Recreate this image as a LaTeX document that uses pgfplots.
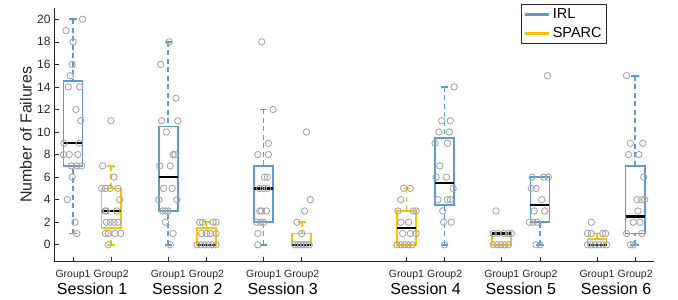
\documentclass[border=0pt]{standalone}
\usepackage{fontspec}
\setmainfont{Liberation Sans}
\usepackage{pgfplots}
\pgfplotsset{compat=1.18}
\usepgfplotslibrary{statistics}
\definecolor{irl}{HTML}{5B9BD5}
\definecolor{sparc}{HTML}{FFC000}
\definecolor{pts}{HTML}{A6A6A6}
\definecolor{axc}{HTML}{262626}
\tikzset{mydash/.style={dash pattern=on 5pt off 3.5pt}}
\pgfplotsset{
  boxplot/draw direction=y,
  boxplot/every box/.style={line width=1.7pt},
  boxplot/every whisker/.style={line width=1.7pt},
  boxplot/draw/lower whisker/.code={%
    \draw[/pgfplots/boxplot/every whisker/.try, mydash]
      (boxplot cs:\pgfplotsboxplotvalue{lower whisker}) -- (boxplot cs:\pgfplotsboxplotvalue{lower quartile});
    \draw[/pgfplots/boxplot/every whisker/.try]
      (boxplot whisker cs:\pgfplotsboxplotvalue{lower whisker},0) -- (boxplot whisker cs:\pgfplotsboxplotvalue{lower whisker},1);
  },
  boxplot/draw/upper whisker/.code={%
    \draw[/pgfplots/boxplot/every whisker/.try, mydash]
      (boxplot cs:\pgfplotsboxplotvalue{upper whisker}) -- (boxplot cs:\pgfplotsboxplotvalue{upper quartile});
    \draw[/pgfplots/boxplot/every whisker/.try]
      (boxplot whisker cs:\pgfplotsboxplotvalue{upper whisker},0) -- (boxplot whisker cs:\pgfplotsboxplotvalue{upper whisker},1);
  },
  boxplot/every median/.style={black, line width=2.3pt},
  mybox/.style={forget plot, line width=1.7pt, boxplot/draw direction=y},
}
\begin{document}
\begin{tikzpicture}
\useasboundingbox (-54pt,-38.3pt) rectangle (624pt,261.7pt);
\begin{axis}[
  scale only axis, width=600.2pt, height=253.7pt,
  xmin=0.6, xmax=6.9, ymin=-1.5, ymax=21,
  axis x line*=bottom, axis y line*=left,
  axis line style={axc, line width=0.6pt, -},
  tick align=inside, major tick length=5pt, tick style={axc, line width=0.6pt},
  xtick={0.8,1.2,1.8,2.2,2.8,3.2,4.3,4.7,5.3,5.7,6.3,6.7},
  xticklabels={Group1,Group2,Group1,Group2,Group1,Group2,Group1,Group2,Group1,Group2,Group1,Group2},
  ytick={0,2,...,20},
  /pgf/number format/assume math mode=true,
  x tick label style={font=\fontsize{10.5}{12}\selectfont, anchor=base, yshift=-15.6pt, text=axc},
  y tick label style={font=\fontsize{12}{14}\selectfont, text=axc},
  ylabel={Number of Failures},
  ylabel style={at={(axis description cs:-0.0372,0.5)}, anchor=base, font=\fontsize{16}{18}\selectfont, text=axc},
  clip=false,
  legend style={at={(axis description cs:0.9214,1.0158)}, anchor=north east, draw=axc, line width=0.7pt,
    font=\fontsize{14.5}{16}\selectfont, inner xsep=3pt, inner ysep=2.5pt, row sep=3pt},
  legend cell align=left,
  legend image code/.code={\draw[line width=2.8pt] (0pt,0pt) -- (24pt,0pt);},
]
% ---- box plots ----
\addplot[mybox, draw=irl, boxplot prepared={draw position=0.8, lower whisker=1, lower quartile=7, median=9, upper quartile=14.5, upper whisker=20, box extend=0.2, whisker extend=0.08}] coordinates {};
\addplot[mybox, draw=sparc, boxplot prepared={draw position=1.2, lower whisker=0, lower quartile=1.5, median=3, upper quartile=5, upper whisker=7, box extend=0.2, whisker extend=0.08}] coordinates {};
\addplot[mybox, draw=irl, boxplot prepared={draw position=1.8, lower whisker=0, lower quartile=3, median=6, upper quartile=10.5, upper whisker=18, box extend=0.2, whisker extend=0.08}] coordinates {};
\addplot[mybox, draw=sparc, boxplot prepared={draw position=2.2, lower whisker=0, lower quartile=0, median=0, upper quartile=1.5, upper whisker=2, box extend=0.2, whisker extend=0.08}] coordinates {};
\addplot[mybox, draw=irl, boxplot prepared={draw position=2.8, lower whisker=0, lower quartile=2, median=5, upper quartile=7, upper whisker=12, box extend=0.2, whisker extend=0.08}] coordinates {};
\addplot[mybox, draw=sparc, boxplot prepared={draw position=3.2, lower whisker=0, lower quartile=0, median=0, upper quartile=1, upper whisker=2, box extend=0.2, whisker extend=0.08}] coordinates {};
\addplot[mybox, draw=sparc, boxplot prepared={draw position=4.3, lower whisker=0, lower quartile=0, median=1.5, upper quartile=3, upper whisker=5, box extend=0.2, whisker extend=0.08}] coordinates {};
\addplot[mybox, draw=irl, boxplot prepared={draw position=4.7, lower whisker=0, lower quartile=3.5, median=5.5, upper quartile=9.5, upper whisker=14, box extend=0.2, whisker extend=0.08}] coordinates {};
\addplot[mybox, draw=sparc, boxplot prepared={draw position=5.3, lower whisker=0, lower quartile=0, median=1, upper quartile=1, upper whisker=1, box extend=0.2, whisker extend=0.08}] coordinates {};
\addplot[mybox, draw=irl, boxplot prepared={draw position=5.7, lower whisker=0, lower quartile=2, median=3.5, upper quartile=6, upper whisker=6, box extend=0.2, whisker extend=0.08}] coordinates {};
\addplot[mybox, draw=sparc, boxplot prepared={draw position=6.3, lower whisker=0, lower quartile=0, median=0, upper quartile=0.5, upper whisker=1, box extend=0.2, whisker extend=0.08}] coordinates {};
\addplot[mybox, draw=irl, boxplot prepared={draw position=6.7, lower whisker=0, lower quartile=1, median=2.5, upper quartile=7, upper whisker=15, box extend=0.2, whisker extend=0.08}] coordinates {};
% ---- individual data points ----
\addplot[forget plot, only marks, mark=o, mark size=3.2pt, color=pts, mark options={line width=0.9pt}] coordinates {
 (0.90,20) (0.726,19) (0.80,18) (0.79,16) (0.77,15) (0.75,14) (0.87,14) (0.83,12) (0.88,11)
 (0.705,9) (0.865,9) (0.70,8) (0.76,8) (0.85,8) (0.78,7) (0.84,7) (0.89,7) (0.79,6) (0.74,4) (0.82,2) (0.84,1)
 (1.198,11) (1.111,7) (1.23,6) (1.10,5) (1.14,5) (1.19,5) (1.27,5) (1.29,4) (1.135,3) (1.15,3) (1.26,3)
 (1.15,2) (1.19,2) (1.23,2) (1.27,2) (1.14,1) (1.17,1) (1.24,1) (1.30,1) (1.17,0)
 (1.81,18) (1.72,16) (1.88,13) (1.73,11) (1.90,11) (1.78,10) (1.85,8) (1.87,8) (1.71,7) (1.82,7)
 (1.75,5) (1.84,5) (1.70,4) (1.89,4) (1.74,3) (1.77,3) (1.80,3) (1.77,2) (1.85,1) (1.82,0)
 (2.13,2) (2.16,2) (2.27,2) (2.30,2) (2.15,1) (2.20,1) (2.24,1) (2.30,1)
 (2.10,0) (2.14,0) (2.18,0) (2.22,0) (2.26,0) (2.30,0)
 (2.78,18) (2.90,12) (2.85,9) (2.74,8) (2.85,8) (2.81,6) (2.84,6) (2.76,5) (2.80,5) (2.84,5)
 (2.76,3) (2.78,3) (2.83,3) (2.73,2) (2.77,2) (2.80,2) (2.74,1) (2.74,0)
 (3.25,10) (3.29,4) (3.23,3) (3.15,2) (3.20,1) (3.13,0) (3.16,0) (3.19,0) (3.22,0) (3.25,0) (3.28,0)
 (4.27,5) (4.34,5) (4.24,4) (4.21,3) (4.37,3) (4.40,3) (4.24,2) (4.32,2) (4.26,1) (4.34,1) (4.40,1)
 (4.20,0) (4.24,0) (4.28,0) (4.32,0) (4.36,0)
 (4.80,14) (4.67,11) (4.76,11) (4.64,10) (4.75,10) (4.60,9) (4.73,9) (4.65,7) (4.61,6) (4.72,6) (4.79,5)
 (4.63,4) (4.73,4) (4.76,4) (4.68,3) (4.69,2) (4.77,2) (4.70,0)
 (5.24,3) (5.21,1) (5.26,1) (5.32,1) (5.37,1) (5.40,1) (5.21,0) (5.25,0) (5.29,0) (5.33,0) (5.37,0)
 (5.78,15) (5.62,6) (5.74,6) (5.79,6) (5.61,5) (5.66,5) (5.72,4) (5.64,3) (5.75,3) (5.59,2) (5.63,2) (5.67,2) (5.66,0) (5.70,0)
 (6.24,2) (6.20,1) (6.24,1) (6.36,1) (6.39,1) (6.20,0) (6.24,0) (6.28,0) (6.32,0) (6.36,0) (6.40,0)
 (6.61,15) (6.65,9) (6.78,9) (6.63,8) (6.74,8) (6.79,6) (6.72,4) (6.77,4) (6.80,4) (6.73,3) (6.68,2) (6.75,2)
 (6.61,1) (6.77,1) (6.65,0) (6.68,0)
};
% ---- legend ----
\addlegendimage{irl}
\addlegendentry{IRL}
\addlegendimage{sparc}
\addlegendentry{SPARC}
% ---- session labels ----
\node[anchor=base, font=\fontsize{16}{18}\selectfont, text=black, yshift=-32.3pt] at (axis cs:1,-1.5) {Session 1};
\node[anchor=base, font=\fontsize{16}{18}\selectfont, text=black, yshift=-32.3pt] at (axis cs:2,-1.5) {Session 2};
\node[anchor=base, font=\fontsize{16}{18}\selectfont, text=black, yshift=-32.3pt] at (axis cs:3,-1.5) {Session 3};
\node[anchor=base, font=\fontsize{16}{18}\selectfont, text=black, yshift=-32.3pt] at (axis cs:4.5,-1.5) {Session 4};
\node[anchor=base, font=\fontsize{16}{18}\selectfont, text=black, yshift=-32.3pt] at (axis cs:5.5,-1.5) {Session 5};
\node[anchor=base, font=\fontsize{16}{18}\selectfont, text=black, yshift=-32.3pt] at (axis cs:6.5,-1.5) {Session 6};
\end{axis}
\end{tikzpicture}
\end{document}
